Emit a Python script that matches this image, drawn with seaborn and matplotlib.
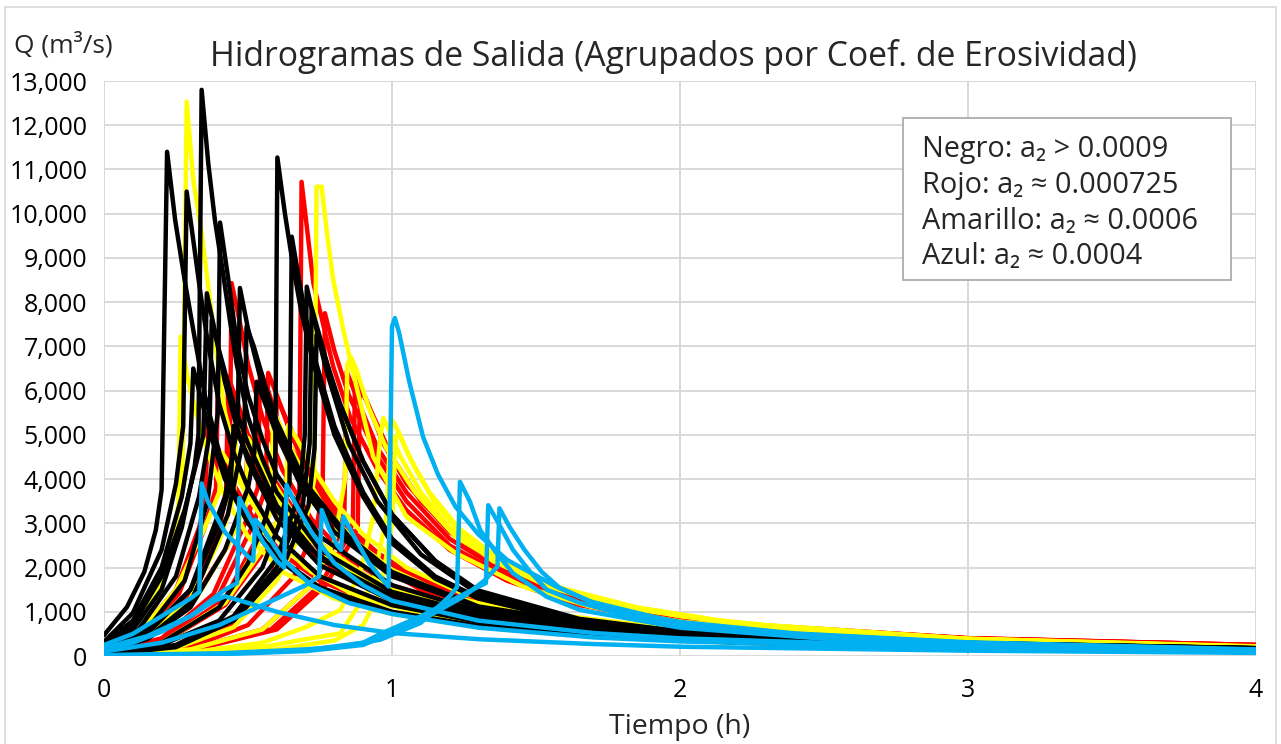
import pandas as pd
import seaborn as sns
import matplotlib.pyplot as plt
from matplotlib.patches import Rectangle
from matplotlib.ticker import StrMethodFormatter

# hidrogramas de salida, puntos (tiempo h, caudal m3/s)
negro = [
    [(0, 470), (0.08, 1110), (0.14, 1900), (0.18, 2850), (0.2, 3750), (0.219, 11400), (0.247, 9860), (0.28, 8500), (0.31, 7370), (0.35, 5900), (0.4, 4600), (0.45, 3750), (0.5, 3100), (0.6, 2250), (0.75, 1550), (1.0, 1000), (1.3, 680), (1.7, 460), (2.2, 310), (3.0, 200), (4.0, 130)],
    [(0, 200), (0.1, 600), (0.2, 1500), (0.27, 2900), (0.315, 4300), (0.328, 5000), (0.339, 12800), (0.362, 11140), (0.385, 9860), (0.41, 8800), (0.437, 7600), (0.46, 6620), (0.5, 5400), (0.55, 4450), (0.6, 3700), (0.75, 2400), (1.0, 1450), (1.3, 950), (1.7, 640), (2.2, 430), (3.0, 270), (4.0, 170)],
    [(0, 320), (0.1, 970), (0.2, 2400), (0.25, 3900), (0.275, 5200), (0.287, 10500), (0.31, 9400), (0.335, 8200), (0.36, 7100), (0.4, 5700), (0.45, 4600), (0.5, 3800), (0.6, 2700), (0.75, 1800), (1.0, 1150), (1.3, 770), (1.7, 520), (2.2, 350), (3.0, 225), (4.0, 145)],
    [(0, 150), (0.15, 600), (0.28, 1700), (0.36, 3500), (0.395, 5500), (0.403, 9800), (0.432, 8500), (0.46, 7140), (0.5, 5900), (0.55, 4900), (0.6, 4100), (0.75, 2700), (1.0, 1600), (1.3, 1020), (1.7, 680), (2.2, 450), (3.0, 285), (4.0, 175)],
    [(0, 60), (0.2, 300), (0.4, 1100), (0.5, 2100), (0.56, 3100), (0.594, 4000), (0.602, 11270), (0.628, 10010), (0.657, 8800), (0.686, 7750), (0.727, 6620), (0.8, 5000), (0.9, 3600), (1.0, 2550), (1.15, 1750), (1.3, 1300), (1.65, 760), (2.0, 520), (3.0, 270), (4.0, 165)],
    [(0, 50), (0.2, 250), (0.4, 800), (0.55, 2000), (0.61, 3000), (0.644, 3900), (0.652, 9480), (0.68, 8400), (0.72, 7000), (0.8, 5200), (0.9, 3700), (1.0, 2650), (1.15, 1800), (1.3, 1320), (1.65, 770), (2.0, 530), (3.0, 275), (4.0, 165)],
    [(0, 250), (0.1, 700), (0.2, 1800), (0.28, 3300), (0.345, 5000), (0.357, 8200), (0.38, 7500), (0.42, 6200), (0.46, 5200), (0.5, 4400), (0.6, 3100), (0.75, 2050), (1.0, 1250), (1.3, 830), (1.7, 560), (2.2, 380), (3.0, 240), (4.0, 155)],
    [(0, 130), (0.15, 500), (0.3, 1500), (0.42, 3600), (0.464, 5200), (0.472, 8320), (0.5, 7400), (0.55, 6100), (0.6, 5100), (0.7, 3800), (0.85, 2600), (1.0, 1850), (1.3, 1100), (1.7, 710), (2.2, 470), (3.0, 295), (4.0, 178)],
    [(0, 180), (0.12, 600), (0.25, 1800), (0.33, 3600), (0.366, 5000), (0.374, 7600), (0.4, 6900), (0.45, 5700), (0.5, 4800), (0.6, 3400), (0.75, 2200), (1.0, 1350), (1.3, 880), (1.7, 590), (2.2, 400), (3.0, 250), (4.0, 160)],
    [(0, 100), (0.15, 400), (0.3, 1200), (0.43, 3200), (0.487, 5000), (0.495, 7450), (0.52, 7000), (0.56, 6100), (0.6, 5300), (0.7, 3900), (0.85, 2700), (1.0, 1900), (1.3, 1120), (1.7, 720), (2.2, 475), (3.0, 295), (4.0, 178)],
    [(0, 40), (0.25, 250), (0.45, 900), (0.6, 2200), (0.68, 3700), (0.697, 5000), (0.704, 8350), (0.73, 7600), (0.77, 6500), (0.85, 4800), (0.95, 3500), (1.1, 2300), (1.3, 1400), (1.65, 800), (2.0, 540), (3.0, 280), (4.0, 170)],
    [(0, 35), (0.25, 220), (0.45, 850), (0.6, 2000), (0.69, 3400), (0.714, 4800), (0.721, 7870), (0.75, 7200), (0.8, 6000), (0.9, 4400), (1.0, 3200), (1.15, 2150), (1.3, 1450), (1.65, 820), (2.0, 550), (3.0, 285), (4.0, 170)],
    [(0, 30), (0.25, 200), (0.45, 800), (0.62, 2000), (0.71, 3400), (0.731, 4700), (0.738, 7260), (0.77, 6700), (0.82, 5700), (0.9, 4400), (1.0, 3200), (1.15, 2150), (1.3, 1480), (1.65, 840), (2.0, 560), (3.0, 290), (4.0, 175)],
    [(0, 280), (0.1, 800), (0.2, 2000), (0.27, 3600), (0.3, 4800), (0.31, 6500), (0.33, 6000), (0.37, 5000), (0.42, 4000), (0.5, 3000), (0.6, 2200), (0.75, 1500), (1.0, 980), (1.3, 660), (1.7, 450), (2.2, 300), (3.0, 195), (4.0, 125)],
    [(0, 90), (0.15, 380), (0.3, 1100), (0.42, 2400), (0.5, 3800), (0.522, 4600), (0.53, 6200), (0.56, 5700), (0.6, 5000), (0.68, 3900), (0.8, 2800), (1.0, 1800), (1.3, 1100), (1.7, 710), (2.2, 465), (3.0, 290), (4.0, 175)],
    [(0, 140), (0.15, 520), (0.3, 1500), (0.4, 3000), (0.44, 3900), (0.45, 5200), (0.48, 4800), (0.53, 4100), (0.6, 3300), (0.7, 2500), (0.85, 1800), (1.0, 1350), (1.3, 880), (1.7, 590), (2.2, 400), (3.0, 255), (4.0, 160)],
]

rojo = [
    [(0, 30), (0.25, 200), (0.45, 700), (0.58, 1800), (0.65, 2900), (0.678, 3500), (0.686, 10720), (0.727, 8430), (0.796, 6540), (0.854, 5410), (0.95, 4200), (1.05, 3300), (1.2, 2400), (1.4, 1700), (1.65, 1150), (2.0, 760), (3.0, 390), (4.0, 240)],
    [(0, 25), (0.3, 200), (0.5, 700), (0.66, 1800), (0.74, 3000), (0.759, 3700), (0.767, 7750), (0.8, 6900), (0.85, 5900), (0.95, 4500), (1.05, 3500), (1.2, 2500), (1.4, 1780), (1.65, 1200), (2.0, 780), (3.0, 395), (4.0, 245)],
    [(0, 20), (0.3, 150), (0.55, 600), (0.72, 1600), (0.8, 2500), (0.834, 3000), (0.843, 6430), (0.88, 5800), (0.95, 4700), (1.05, 3700), (1.2, 2650), (1.4, 1850), (1.65, 1220), (2.0, 790), (3.0, 400), (4.0, 250)],
    [(0, 18), (0.3, 130), (0.58, 600), (0.75, 1600), (0.83, 2500), (0.864, 3000), (0.872, 6400), (0.91, 5800), (0.97, 4800), (1.05, 3900), (1.2, 2800), (1.4, 1950), (1.65, 1260), (2.0, 800), (3.0, 400), (4.0, 250)],
    [(0, 15), (0.3, 120), (0.6, 600), (0.77, 1600), (0.85, 2500), (0.881, 2900), (0.889, 6090), (0.93, 5500), (1.0, 4500), (1.1, 3500), (1.25, 2550), (1.45, 1800), (1.65, 1280), (2.0, 810), (3.0, 405), (4.0, 250)],
    [(0, 100), (0.15, 400), (0.3, 1300), (0.4, 2900), (0.436, 4000), (0.443, 8430), (0.47, 7600), (0.5, 6600), (0.55, 5400), (0.62, 4200), (0.72, 3100), (0.85, 2200), (1.0, 1600), (1.3, 1000), (1.7, 650), (2.2, 430), (3.0, 280), (4.0, 175)],
    [(0, 70), (0.2, 400), (0.38, 1400), (0.49, 3000), (0.534, 3800), (0.542, 6470), (0.57, 6000), (0.62, 5000), (0.7, 3900), (0.8, 2900), (0.95, 2050), (1.1, 1500), (1.4, 960), (1.8, 630), (2.3, 420), (3.0, 290), (4.0, 185)],
    [(0, 60), (0.2, 350), (0.4, 1400), (0.52, 3000), (0.562, 3800), (0.57, 6400), (0.6, 5900), (0.65, 5000), (0.72, 4000), (0.82, 3000), (0.95, 2150), (1.1, 1550), (1.4, 1000), (1.8, 650), (2.3, 430), (3.0, 295), (4.0, 185)],
    [(0, 50), (0.2, 300), (0.42, 1300), (0.55, 2900), (0.592, 3600), (0.6, 5850), (0.63, 5400), (0.68, 4700), (0.75, 3800), (0.85, 2900), (1.0, 2050), (1.2, 1400), (1.5, 920), (1.9, 610), (2.4, 420), (3.0, 300), (4.0, 190)],
    [(0, 130), (0.12, 450), (0.26, 1400), (0.35, 2900), (0.389, 3800), (0.397, 6760), (0.42, 6200), (0.46, 5300), (0.52, 4300), (0.6, 3300), (0.72, 2350), (0.85, 1750), (1.0, 1300), (1.3, 850), (1.7, 560), (2.2, 390), (3.0, 260), (4.0, 165)],
    [(0, 110), (0.15, 450), (0.3, 1400), (0.39, 2900), (0.424, 3700), (0.431, 6310), (0.46, 5800), (0.5, 5000), (0.56, 4100), (0.65, 3100), (0.77, 2250), (0.9, 1700), (1.05, 1270), (1.35, 840), (1.75, 560), (2.2, 390), (3.0, 265), (4.0, 170)],
    [(0, 90), (0.15, 380), (0.3, 1150), (0.43, 2500), (0.49, 3400), (0.5, 5000), (0.53, 4700), (0.58, 4100), (0.66, 3300), (0.76, 2500), (0.9, 1850), (1.05, 1400), (1.35, 920), (1.75, 610), (2.2, 415), (3.0, 270), (4.0, 170)],
    [(0, 45), (0.2, 280), (0.42, 1150), (0.56, 2400), (0.63, 3300), (0.64, 4800), (0.67, 4500), (0.72, 3950), (0.8, 3200), (0.9, 2550), (1.05, 1900), (1.25, 1350), (1.55, 920), (1.95, 630), (2.4, 440), (3.0, 310), (4.0, 190)],
    [(0, 160), (0.12, 520), (0.25, 1500), (0.33, 2900), (0.352, 3500), (0.36, 5200), (0.39, 4800), (0.44, 4000), (0.52, 3100), (0.62, 2300), (0.75, 1700), (0.9, 1300), (1.1, 980), (1.4, 700), (1.8, 480), (2.3, 340), (3.0, 235), (4.0, 150)],
]

amarillo = [
    [(0, 200), (0.1, 700), (0.2, 1900), (0.25, 3000), (0.272, 3800), (0.287, 12530), (0.31, 10760), (0.339, 9560), (0.362, 8350), (0.391, 6840), (0.42, 5500), (0.48, 4000), (0.58, 2800), (0.72, 1900), (0.9, 1300), (1.2, 800), (1.6, 520), (2.1, 350), (3.0, 220), (4.0, 140)],
    [(0, 180), (0.1, 650), (0.2, 1700), (0.245, 2800), (0.259, 3500), (0.266, 7220), (0.29, 6300), (0.32, 5500), (0.36, 4600), (0.42, 3600), (0.5, 2700), (0.62, 1900), (0.8, 1300), (1.0, 950), (1.3, 650), (1.7, 440), (2.2, 300), (3.0, 200), (4.0, 130)],
    [(0, 25), (0.25, 180), (0.45, 650), (0.6, 1700), (0.7, 3000), (0.73, 4000), (0.738, 10610), (0.756, 10610), (0.773, 9630), (0.796, 8500), (0.831, 7370), (0.88, 6000), (0.935, 4500), (1.05, 3150), (1.22, 2330), (1.455, 1570), (1.69, 1115), (2.0, 780), (2.5, 500), (3.0, 360), (4.0, 210)],
    [(0, 18), (0.3, 150), (0.55, 600), (0.72, 1600), (0.8, 2600), (0.837, 4000), (0.845, 6600), (0.858, 6750), (0.875, 6500), (0.92, 5600), (0.98, 4700), (1.08, 3700), (1.22, 2700), (1.4, 2000), (1.65, 1350), (2.0, 900), (2.5, 560), (3.0, 390), (4.0, 220)],
    [(0, 10), (0.3, 80), (0.55, 300), (0.7, 650), (0.82, 1040), (0.889, 1870), (0.935, 3150), (0.958, 4880), (0.97, 5380), (0.99, 5100), (1.03, 4500), (1.1, 3700), (1.2, 2900), (1.35, 2150), (1.55, 1550), (1.8, 1100), (2.2, 720), (3.0, 380), (4.0, 210)],
    [(0, 8), (0.3, 60), (0.55, 200), (0.7, 380), (0.82, 510), (0.935, 1640), (0.98, 3150), (0.994, 5000), (1.003, 5320), (1.02, 5100), (1.06, 4500), (1.13, 3700), (1.23, 2900), (1.38, 2150), (1.58, 1550), (1.85, 1100), (2.2, 740), (3.0, 390), (4.0, 210)],
    [(0, 6), (0.3, 40), (0.6, 150), (0.8, 350), (0.9, 700), (0.96, 1500), (1.0, 3000), (1.013, 4900), (1.022, 5070), (1.04, 4800), (1.08, 4250), (1.15, 3450), (1.25, 2700), (1.4, 2050), (1.6, 1500), (1.85, 1080), (2.2, 740), (3.0, 385), (4.0, 205)],
    [(0, 120), (0.15, 450), (0.3, 1300), (0.4, 2600), (0.452, 3600), (0.46, 5410), (0.49, 5000), (0.54, 4300), (0.62, 3400), (0.72, 2600), (0.85, 1900), (1.0, 1420), (1.3, 920), (1.7, 610), (2.2, 410), (3.0, 265), (4.0, 160)],
    [(0, 100), (0.15, 400), (0.32, 1300), (0.43, 2500), (0.492, 3400), (0.5, 4930), (0.53, 4600), (0.58, 4000), (0.66, 3200), (0.76, 2500), (0.9, 1850), (1.05, 1400), (1.35, 910), (1.75, 600), (2.2, 415), (3.0, 265), (4.0, 160)],
    [(0, 50), (0.2, 300), (0.42, 1200), (0.56, 2500), (0.632, 3500), (0.64, 5220), (0.67, 4900), (0.72, 4300), (0.8, 3500), (0.9, 2750), (1.05, 2000), (1.25, 1400), (1.55, 950), (1.95, 640), (2.4, 440), (3.0, 310), (4.0, 180)],
    [(0, 45), (0.2, 280), (0.42, 1200), (0.54, 2600), (0.58, 3300), (0.588, 5560), (0.62, 5100), (0.68, 4300), (0.76, 3400), (0.87, 2600), (1.0, 1950), (1.2, 1350), (1.5, 900), (1.9, 600), (2.4, 420), (3.0, 300), (4.0, 185)],
    [(0, 150), (0.12, 520), (0.25, 1500), (0.35, 2900), (0.4, 3700), (0.41, 4600), (0.44, 4300), (0.5, 3600), (0.58, 2800), (0.7, 2000), (0.85, 1450), (1.0, 1120), (1.3, 760), (1.7, 510), (2.2, 350), (3.0, 230), (4.0, 145)],
]

azul = [
    [(0, 250), (0.1, 500), (0.2, 900), (0.3, 1300), (0.331, 1450), (0.339, 3900), (0.36, 3500), (0.42, 2800), (0.5, 2250), (0.518, 2150), (0.525, 3080), (0.55, 2900), (0.62, 2200), (0.72, 1600), (0.85, 1200), (1.0, 950), (1.3, 640), (1.7, 420), (2.0, 330), (3.0, 170), (4.0, 90)],
    [(0, 180), (0.15, 450), (0.3, 900), (0.42, 1500), (0.462, 1650), (0.47, 3570), (0.5, 3200), (0.55, 2600), (0.6, 2150), (0.625, 2000), (0.634, 3870), (0.66, 3500), (0.72, 2800), (0.8, 2100), (0.9, 1600), (1.0, 1250), (1.3, 800), (1.7, 520), (2.0, 400), (3.0, 200), (4.0, 110)],
    [(0, 100), (0.2, 300), (0.4, 700), (0.6, 1300), (0.7, 1600), (0.747, 1800), (0.756, 3300), (0.78, 2900), (0.81, 2500), (0.823, 2400), (0.831, 3150), (0.86, 2800), (0.92, 2100), (0.988, 1570), (1.0, 7450), (1.01, 7640), (1.025, 7300), (1.06, 6200), (1.108, 4950), (1.16, 4100), (1.22, 3380), (1.3, 2750), (1.4, 2170), (1.57, 1570), (1.69, 1230), (2.0, 740), (2.5, 420), (3.0, 270), (4.0, 130)],
    [(0, 20), (0.4, 60), (0.7, 150), (0.82, 210), (0.96, 370), (1.1, 750), (1.2, 1350), (1.226, 1560), (1.236, 3940), (1.27, 3500), (1.306, 2850), (1.36, 2350), (1.42, 1870), (1.537, 1340), (1.653, 1040), (2.0, 640), (2.5, 390), (3.0, 260), (4.0, 120)],
    [(0, 15), (0.4, 50), (0.7, 130), (0.9, 300), (0.96, 500), (1.1, 900), (1.25, 1400), (1.326, 1650), (1.334, 3410), (1.37, 3000), (1.42, 2400), (1.48, 1900), (1.537, 1500), (1.653, 1200), (1.8, 950), (2.0, 740), (2.4, 500), (3.0, 300), (4.0, 140)],
    [(0, 12), (0.4, 40), (0.7, 110), (0.9, 250), (0.96, 420), (1.1, 800), (1.25, 1350), (1.32, 1700), (1.366, 2020), (1.373, 3340), (1.41, 2900), (1.46, 2400), (1.52, 1900), (1.58, 1550), (1.7, 1200), (1.85, 950), (2.0, 770), (2.4, 510), (3.0, 310), (4.0, 150)],
    [(0, 150), (0.1, 300), (0.2, 550), (0.3, 900), (0.37, 1200), (0.42, 1350), (0.5, 1200), (0.6, 1000), (0.8, 700), (1.0, 520), (1.3, 380), (1.7, 270), (2.0, 210), (3.0, 120), (4.0, 70)],
]

grupos = {'Rojo': rojo, 'Amarillo': amarillo, 'Negro': negro, 'Azul': azul}
colores = {'Negro': '#000000', 'Rojo': '#FF0000', 'Amarillo': '#FFFF00', 'Azul': '#00B0F0'}

leyenda = ['Negro: a₂ > 0.0009', 'Rojo: a₂ ≈ 0.000725',
           'Amarillo: a₂ ≈ 0.0006', 'Azul: a₂ ≈ 0.0004']

filas = []
for grupo, curvas in grupos.items():
    for i, curva in enumerate(curvas):
        for t, q in curva:
            filas.append({'grupo': grupo, 'curva': f'{grupo}{i}', 't': t, 'q': q})
data = pd.DataFrame(filas)

sns.set_style("white")
plt.rcParams['font.family'] = ['Open Sans', 'DejaVu Sans']

fig = plt.figure(figsize=(12.81, 7.44), dpi=100)
ax = fig.add_axes([104 / 1281, 1 - 656 / 744, 1152 / 1281, 575 / 744])

sns.lineplot(data=data, x='t', y='q', hue='grupo', units='curva', estimator=None,
             hue_order=list(grupos.keys()), palette=colores, sort=False,
             lw=3.2, legend=False, ax=ax,
             solid_joinstyle='round', solid_capstyle='round')

ax.set_xlim(0, 4)
ax.set_ylim(0, 13000)
ax.set_xticks([0, 1, 2, 3, 4])
ax.set_yticks(range(0, 13001, 1000))
ax.yaxis.set_major_formatter(StrMethodFormatter('{x:,.0f}'))
ax.grid(True, color='#D9D9D9', lw=1.4)
ax.set_axisbelow(True)
for s in ax.spines.values():
    s.set_visible(False)
ax.tick_params(axis='y', length=0, pad=12, labelsize=18, labelcolor='#000000')
ax.tick_params(axis='x', length=0, pad=16, labelsize=18, labelcolor='#000000')
ax.set_xlabel('')
ax.set_ylabel('')

fig.text(673 / 1281, 1 - 56 / 744, 'Hidrogramas de Salida (Agrupados por Coef. de Erosividad)',
         ha='center', va='center', fontsize=24.3)
fig.text(14 / 1281, 1 - 45 / 744, 'Q (m³/s)', ha='left', va='center', fontsize=19)
fig.text(680 / 1281, 1 - 727 / 744, 'Tiempo (h)', ha='center', va='center', fontsize=20.5)

# cuadro con la descripcion de colores
fig.patches.append(Rectangle((903 / 1281, 1 - 280 / 744), 328 / 1281, 162 / 744,
                             transform=fig.transFigure, facecolor='white',
                             edgecolor='#A6A6A6', lw=1.2, zorder=5))
for k, linea in enumerate(leyenda):
    fig.text(922 / 1281, 1 - (150 + 35.6 * k) / 744, linea, ha='left', va='center',
             fontsize=20.8, zorder=6)

# borde del area del grafico
fig.patches.append(Rectangle((5 / 1281, -0.01), 1271 / 1281, 1 - 7 / 744 + 0.01,
                             transform=fig.transFigure, fill=False,
                             edgecolor='#D9D9D9', lw=1.2))

fig.savefig('out.png', dpi=100)
